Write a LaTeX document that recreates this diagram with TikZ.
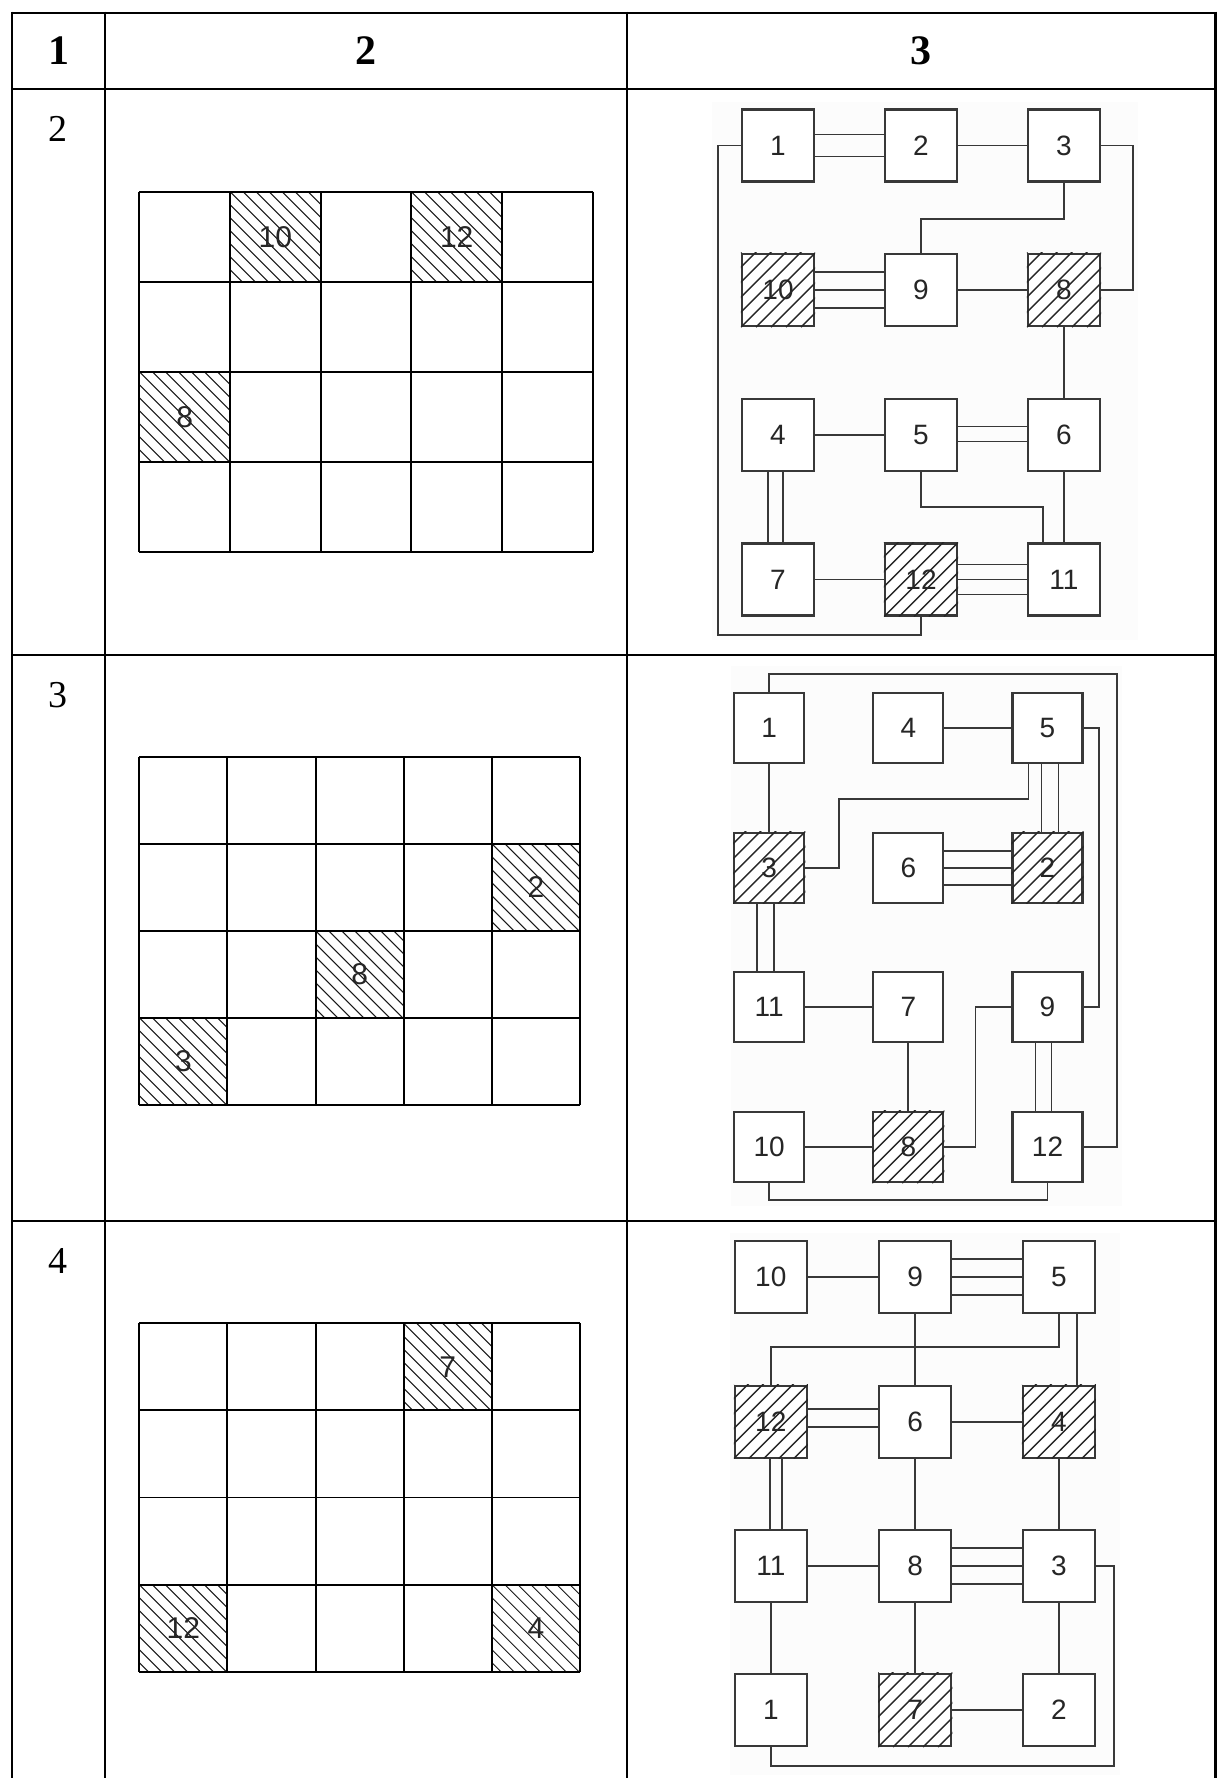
\documentclass[tikz,border=0pt]{standalone}
\usepackage{fontspec}
\setmainfont{Liberation Serif}
\newfontfamily\mysans{Liberation Sans}
\usetikzlibrary{calc}
\newcommand{\myboxfont}{\mysans\fontsize{28}{30}\selectfont}
\newcommand{\mygridfont}{\mysans\fontsize{30}{32}\selectfont}
\newcommand{\myhdrfont}{\fontsize{42}{46}\selectfont\bfseries}
\newcommand{\myrowfont}{\fontsize{38}{42}\selectfont}
\newcommand{\hatchcell}[4]{%
  \begin{scope}
    \clip (#1,#2) rectangle (#3,#4);
    \foreach \k in {-10,...,10}{\draw[hatchgrid] ({#1+\k*13},#2) -- ++(140,140);}
  \end{scope}}
\newcommand{\hatchbox}[1]{%
  \begin{scope}
    \clip (#1.south west) rectangle (#1.north east);
    \foreach \k in {-8,...,8}{\draw[hatchblk] ($(#1.south west)+(\k*15,0)$) -- ++(120,-120);}
  \end{scope}}
\tikzset{
  tbl/.style={line width=2.8pt, draw=black},
  gridl/.style={line width=1.9pt, draw=black},
  hatchgrid/.style={line width=1pt, draw=black!90},
  hatchblk/.style={line width=1.4pt, draw=black!85},
  blk/.style={draw=black!78, line width=2.1pt, fill=white, minimum size=72pt, inner sep=0pt, text=black!85, font=\myboxfont},
  blks/.style={blk, minimum size=70pt},
  wire/.style={draw=black!78, line width=1.9pt},
  glabel/.style={text=black!85, font=\mygridfont, inner sep=0pt},
  bgpanel/.style={fill=black!1, draw=none},
}
\begin{document}
\begin{tikzpicture}[x=1pt,y=-1pt]
\useasboundingbox (0,0) rectangle (1217,1778);
\fill[white] (0,0) rectangle (1217,1778);

% ---------- table ----------
\draw[tbl] (12,13) -- (1215.5,13);
\draw[tbl] (12,89) -- (1215.5,89);
\draw[tbl] (12,655) -- (1215.5,655);
\draw[tbl] (12,1221) -- (1215.5,1221);
\draw[tbl] (12,11.6) -- (12,1778);
\draw[tbl] (105,11.6) -- (105,1778);
\draw[tbl] (627,11.6) -- (627,1778);
\draw[tbl] (1215.5,11.6) -- (1215.5,1778);

\node[font=\myhdrfont, anchor=base] (h1) at (58.5,64) {1};
\node[font=\myhdrfont, anchor=base] (h2) at (366,64) {2};
\node[font=\myhdrfont, anchor=base] (h3) at (921,64) {3};
\node[font=\myrowfont, anchor=base] (r2) at (58,141) {2};
\node[font=\myrowfont, anchor=base] (r3) at (58,707) {3};
\node[font=\myrowfont, anchor=base] (r4) at (58,1273) {4};

% ---------- column 2 grids ----------
% row 2
\hatchcell{230}{191.7}{320.7}{281.7}
\hatchcell{411.3}{191.7}{502}{281.7}
\hatchcell{139.3}{371.7}{230}{461.7}
\foreach \i in {0,...,5} \draw[gridl] ({139.3+\i*90.68},191.7) -- ({139.3+\i*90.68},551.7);
\foreach \j in {0,...,4} \draw[gridl] (139.3,{191.7+\j*90}) -- (592.7,{191.7+\j*90});
\node[glabel] (g2a) at (275.3,236.7) {10};
\node[glabel] (g2b) at (456.7,236.7) {12};
\node[glabel] (g2c) at (184.7,416.7) {8};

% row 3
\hatchcell{491.9}{843.7}{580}{930.7}
\hatchcell{315.6}{930.7}{403.7}{1017.7}
\hatchcell{139.3}{1017.7}{227.4}{1104.7}
\foreach \i in {0,...,5} \draw[gridl] ({139.3+\i*88.14},756.7) -- ({139.3+\i*88.14},1104.7);
\foreach \j in {0,...,4} \draw[gridl] (139.3,{756.7+\j*87}) -- (580,{756.7+\j*87});
\node[glabel] (g3a) at (536,887.2) {2};
\node[glabel] (g3b) at (359.6,974.2) {8};
\node[glabel] (g3c) at (183.4,1061.2) {3};

% row 4
\hatchcell{403.7}{1323.3}{491.9}{1410.4}
\hatchcell{139.3}{1584.6}{227.4}{1671.7}
\hatchcell{491.9}{1584.6}{580}{1671.7}
\foreach \i in {0,...,5} \draw[gridl] ({139.3+\i*88.14},1323.3) -- ({139.3+\i*88.14},1671.7);
\foreach \j in {0,...,4} \draw[gridl] (139.3,{1323.3+\j*87.1}) -- (580,{1323.3+\j*87.1});
\node[glabel] (g4a) at (447.8,1366.9) {7};
\node[glabel] (g4b) at (183.4,1628.2) {12};
\node[glabel] (g4c) at (536,1628.2) {4};

% ---------- column 3, row 2 ----------
\fill[bgpanel] (712,102) rectangle (1138,640);
\node[blk] (A1) at (778,145.5) {1};
\node[blk] (A2) at (921,145.5) {2};
\node[blk] (A3) at (1064,145.5) {3};
\node[blk] (A10) at (778,290) {10};
\node[blk] (A9) at (921,290) {9};
\node[blk] (A8) at (1064,290) {8};
\node[blk] (A4) at (778,435) {4};
\node[blk] (A5) at (921,435) {5};
\node[blk] (A6) at (1064,435) {6};
\node[blk] (A7) at (778,579.5) {7};
\node[blk] (A12) at (921,579.5) {12};
\node[blk] (A11) at (1064,579.5) {11};
\hatchbox{A10}\hatchbox{A8}\hatchbox{A12}

\draw[wire] ($(A1.east)+(0,-11)$) -- ($(A2.west)+(0,-11)$);
\draw[wire] ($(A1.east)+(0,11)$) -- ($(A2.west)+(0,11)$);
\draw[wire] (A2) -- (A3);
\draw[wire] (A3.east) -- ++(32,0) |- (A8.east);
\draw[wire] (A3.south) -- ++(0,36) -| (A9.north);
\draw[wire] ($(A10.east)+(0,-18)$) -- ($(A9.west)+(0,-18)$);
\draw[wire] (A10) -- (A9);
\draw[wire] ($(A10.east)+(0,18)$) -- ($(A9.west)+(0,18)$);
\draw[wire] (A9) -- (A8);
\draw[wire] (A8) -- (A6);
\draw[wire] (A4) -- (A5);
\draw[wire] ($(A5.east)+(0,-8.5)$) -- ($(A6.west)+(0,-8.5)$);
\draw[wire] ($(A5.east)+(0,6.5)$) -- ($(A6.west)+(0,6.5)$);
\draw[wire] (A5.south) -- ++(0,35) -| ($(A11.north)+(-21,0)$);
\draw[wire] (A6) -- (A11);
\draw[wire] ($(A4.south)+(-10,0)$) -- ($(A7.north)+(-10,0)$);
\draw[wire] ($(A4.south)+(5,0)$) -- ($(A7.north)+(5,0)$);
\draw[wire] (A7) -- (A12);
\draw[wire] ($(A12.east)+(0,-15)$) -- ($(A11.west)+(0,-15)$);
\draw[wire] (A12) -- (A11);
\draw[wire] ($(A12.east)+(0,15)$) -- ($(A11.west)+(0,15)$);
\draw[wire] (A12.south) -- ++(0,18) -| ($(A1.west)+(-23,0)$) -- (A1.west);

% ---------- column 3, row 3 ----------
\fill[bgpanel] (731,666) rectangle (1122,1206);
\node[blks] (B1) at (769.2,728) {1};
\node[blks] (B4) at (908.3,728) {4};
\node[blks] (B5) at (1047.5,728) {5};
\node[blks] (B3) at (769.2,867.7) {3};
\node[blks] (B6) at (908.3,867.7) {6};
\node[blks] (B2) at (1047.5,867.7) {2};
\node[blks] (B11) at (769.2,1007.3) {11};
\node[blks] (B7) at (908.3,1007.3) {7};
\node[blks] (B9) at (1047.5,1007.3) {9};
\node[blks] (B10) at (769.2,1147) {10};
\node[blks] (B8) at (908.3,1147) {8};
\node[blks] (B12) at (1047.5,1147) {12};
\hatchbox{B3}\hatchbox{B2}\hatchbox{B8}

\draw[wire] (B1.north) -- ++(0,-18) -| ($(B12.east)+(33,0)$) -- (B12.east);
\draw[wire] (B4) -- (B5);
\draw[wire] (B5.east) -- ++(15,0) |- (B9.east);
\draw[wire] ($(B5.south)+(-19,0)$) -- ++(0,35) -| ($(B3.east)+(34,0)$) -- (B3.east);
\draw[wire] ($(B5.south)+(-6,0)$) -- ($(B2.north)+(-6,0)$);
\draw[wire] ($(B5.south)+(11,0)$) -- ($(B2.north)+(11,0)$);
\draw[wire] (B1) -- (B3);
\draw[wire] ($(B6.east)+(0,-17)$) -- ($(B2.west)+(0,-17)$);
\draw[wire] (B6) -- (B2);
\draw[wire] ($(B6.east)+(0,17)$) -- ($(B2.west)+(0,17)$);
\draw[wire] ($(B3.south)+(-12,0)$) -- ($(B11.north)+(-12,0)$);
\draw[wire] ($(B3.south)+(5,0)$) -- ($(B11.north)+(5,0)$);
\draw[wire] (B11) -- (B7);
\draw[wire] (B7) -- (B8);
\draw[wire] (B10) -- (B8);
\draw[wire] (B9.west) -- ++(-36,0) |- (B8.east);
\draw[wire] ($(B9.south)+(-12,0)$) -- ($(B12.north)+(-12,0)$);
\draw[wire] ($(B9.south)+(4,0)$) -- ($(B12.north)+(4,0)$);
\draw[wire] (B10.south) -- ++(0,17) -| (B12.south);

% ---------- column 3, row 4 ----------
\fill[bgpanel] (730,1233) rectangle (1120,1775);
\node[blk] (C10) at (770.8,1277) {10};
\node[blk] (C9) at (915.2,1277) {9};
\node[blk] (C5) at (1058.8,1277) {5};
\node[blk] (C12) at (770.8,1421.6) {12};
\node[blk] (C6) at (915.2,1421.6) {6};
\node[blk] (C4) at (1058.8,1421.6) {4};
\node[blk] (C11) at (770.8,1565.7) {11};
\node[blk] (C8) at (915.2,1565.7) {8};
\node[blk] (C3) at (1058.8,1565.7) {3};
\node[blk] (C1) at (770.8,1710) {1};
\node[blk] (C7) at (915.2,1710) {7};
\node[blk] (C2) at (1058.8,1710) {2};
\hatchbox{C12}\hatchbox{C4}\hatchbox{C7}

\draw[wire] (C10) -- (C9);
\draw[wire] ($(C9.east)+(0,-18)$) -- ($(C5.west)+(0,-18)$);
\draw[wire] (C9) -- (C5);
\draw[wire] ($(C9.east)+(0,18)$) -- ($(C5.west)+(0,18)$);
\draw[wire] (C9) -- (C6);
\draw[wire] (C5.south) -- ++(0,33) -| (C12.north);
\draw[wire] ($(C5.south)+(18,0)$) -- ($(C4.north)+(18,0)$);
\draw[wire] ($(C12.east)+(0,-13)$) -- ($(C6.west)+(0,-13)$);
\draw[wire] ($(C12.east)+(0,5)$) -- ($(C6.west)+(0,5)$);
\draw[wire] (C6) -- (C4);
\draw[wire] ($(C12.south)+(-1,0)$) -- ($(C11.north)+(-1,0)$);
\draw[wire] ($(C12.south)+(11,0)$) -- ($(C11.north)+(11,0)$);
\draw[wire] (C6) -- (C8);
\draw[wire] (C4) -- (C3);
\draw[wire] (C11) -- (C8);
\draw[wire] ($(C8.east)+(0,-18)$) -- ($(C3.west)+(0,-18)$);
\draw[wire] (C8) -- (C3);
\draw[wire] ($(C8.east)+(0,18)$) -- ($(C3.west)+(0,18)$);
\draw[wire] (C3.east) -- ++(18,0) |- ($(C1.south)+(0,18.5)$) -- (C1.south);
\draw[wire] (C11) -- (C1);
\draw[wire] (C8) -- (C7);
\draw[wire] (C3) -- (C2);
\draw[wire] (C7) -- (C2);
\end{tikzpicture}
\end{document}
